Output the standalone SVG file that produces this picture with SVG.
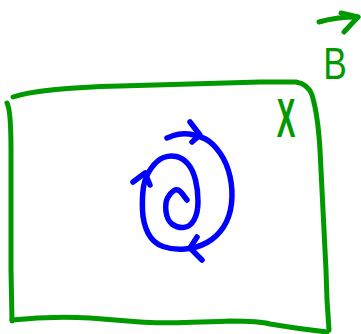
<svg xmlns="http://www.w3.org/2000/svg" width="361" height="334" viewBox="0 0 361 334">
<style>
.g{fill:none;stroke:#009900;stroke-width:5;stroke-linecap:round;stroke-linejoin:round}
.b{fill:none;stroke:#0000ff;stroke-width:5.5;stroke-linecap:round;stroke-linejoin:round}
.t{font-family:"Liberation Sans",Arial,sans-serif;fill:#009900;text-anchor:middle}
</style>
<rect width="361" height="334" fill="#ffffff"/>
<g id="frame">
<path class="g" d="M13,97 Q40,88 120,86 L260,82 L296,82 Q308,84 312,95 Q318,115 320,150 L326,270 L327,300 L329,330"/>
<path class="g" d="M7,103 Q11,110 11,150 L11,270 L12,321"/>
<path class="g" d="M12,320 Q50,316 90,318 L140,322 Q160,324 230,321 Q260,321 270,324 Q300,329 327,332"/>
</g>
<g id="x-label">
<text class="t" transform="translate(286,137) scale(0.5,1)" font-size="56" font-weight="bold">X</text>
</g>
<g id="b-vector">
<text class="t" transform="translate(335,79) scale(0.8,1)" font-size="44">B</text>
<path class="g" d="M319,22 Q335,17 358,17"/>
<path class="g" d="M341,13 L358,17 L344,32"/>
</g>
<g id="spiral">
<path class="b" d="M167,138 L173.5,135.5 Q180,133 189,134 Q198,135 205.5,139 Q213,143 220,153 Q227,163 230,176.5 Q233,190 231.5,203.5 Q230,217 223.5,227 Q217,237 207,242.5 Q197,248 185,249 Q173,250 163,246.5 Q153,243 148,233 Q143,223 142.5,210 Q142,197 143.5,187 Q145,177 151,168.5 Q157,160 163.5,157.5 Q170,155 176.5,156.5 Q183,158 188,164 Q193,170 195.5,180 Q198,190 198,201.5 Q198,213 194,220 Q190,227 183.5,227.5 Q177,228 172,224 Q167,220 166,211.5 Q165,203 167.5,198 Q170,193 174,190.5 Q178,188 182.5,194 L187,200"/>
<path class="b" d="M190,122 L200,135 L192,142"/>
<path class="b" d="M133,182 L145,173 L150,185"/>
<path class="b" d="M197,237 L190,248 L202,260"/>
</g>
</svg>
